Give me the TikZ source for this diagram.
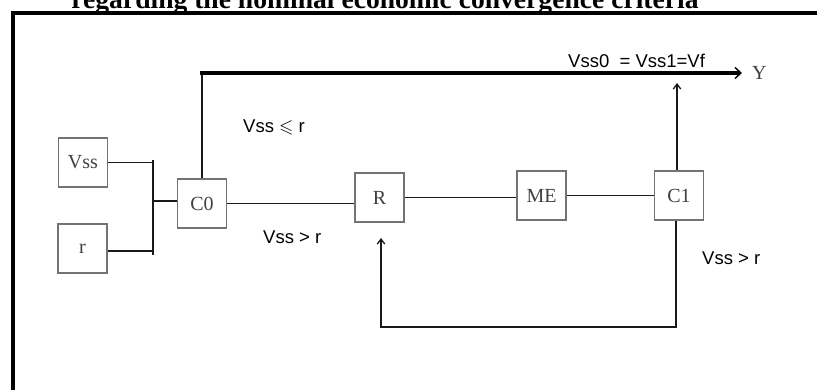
\documentclass[tikz,border=0pt]{standalone}
\usepackage{fontspec}
\setmainfont{Liberation Serif}
\setsansfont{Liberation Sans}
\usepackage{amssymb}
\usetikzlibrary{arrows.meta}
\begin{document}
\begin{tikzpicture}[x=1pt,y=-1pt,
  blk/.style={draw=black!55, line width=1.1pt, minimum width=49pt, minimum height=49pt, inner sep=0pt, font=\fontsize{20}{20}\selectfont, text=black!75},
  conn/.style={line width=1.6pt, draw=black!90},
  lbl/.style={font=\sffamily\fontsize{18.5}{18.5}\selectfont, inner sep=0pt, anchor=west},
  tip/.style={-{Straight Barb[length=5pt,width=7.5pt,line width=1.3pt]}}
]
\useasboundingbox (0,0) rectangle (817,390);
\fill[white] (0,0) rectangle (817,390);
\node[font=\bfseries\fontsize{27.6}{27.6}\selectfont, anchor=base, inner sep=0pt] (title) at (385,9) {regarding the nominal economic convergence criteria};
\coordinate (fbl) at (13,400);
\coordinate (fc) at (13,13);
\coordinate (fr) at (830,13);
\draw[line width=3.5pt] (fbl) -- (fc) -- (fr);

\node[blk] (vss) at (83,162.5) {Vss};
\node[blk] (r) at (82.5,248.5) {r};
\node[blk] (c0) at (202,203.5) {C0};
\node[blk] (R) at (379.5,197.5) {R};
\node[blk] (me) at (541.5,195.5) {ME};
\node[blk] (c1) at (679,195.5) {C1};

\coordinate (jt) at (153,162.5);
\coordinate (jb) at (153,251);
\coordinate (jtt) at (153,160.5);
\coordinate (jbb) at (153,255);
\coordinate (jm) at (153,201);
\draw[conn] (vss) -- (jt);
\draw[conn] (r.east |- jb) -- (jb);
\draw[conn] (jtt) -- (jbb);
\draw[conn] (jm) -- (c0.west |- jm);

\coordinate (corner) at (202,73);
\coordinate (yend) at (742,73);
\draw[conn] (c0.north) -- (corner);
\draw[line width=3.5pt, -{Straight Barb[length=6pt,width=11pt,line width=1.4pt]}] ([xshift=-1.6pt]corner) -- (yend);
\node[font=\fontsize{20}{20}\selectfont, text=black!75, anchor=west, inner sep=0pt] (Y) at (752,73) {Y};

\draw[conn] (c0.east) -- (c0.east -| R.west);
\draw[conn] (R.east) -- (R.east -| me.west);
\draw[conn] (me.east) -- (me.east -| c1.west);

\coordinate (c1top) at (677,83);
\draw[conn, tip] (c1.north -| c1top) -- (c1top);

\coordinate (fb1) at (676,327);
\coordinate (fb2) at (381,327);
\coordinate (rtip) at (381,238);
\draw[conn, tip] (c1.south -| fb1) -- (fb1) -- (fb2) -- (rtip);

\node[lbl] (l1) at (243,127) {Vss $\leqslant$ r};
\node[lbl] (l2) at (263,237) {Vss > r};
\node[lbl] (l3) at (568,61) {Vss0~ = Vss1=Vf};
\node[lbl] (l4) at (702,258) {Vss > r};
\end{tikzpicture}
\end{document}
